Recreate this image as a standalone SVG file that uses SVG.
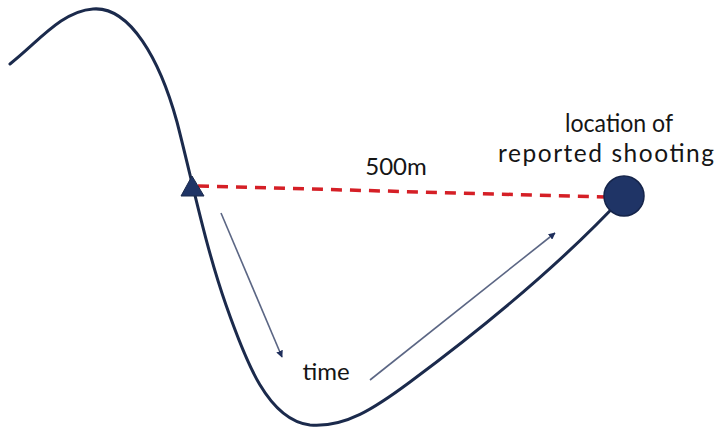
<svg xmlns="http://www.w3.org/2000/svg" width="717" height="428" viewBox="0 0 717 428">
<defs>
<style>
.curve{fill:none;stroke:#1b2a4c;stroke-width:3;stroke-linecap:round}
.arr{fill:none;stroke:#5b6684;stroke-width:1.6}
.dash{fill:none;stroke:#d51f26;stroke-width:3.5;stroke-dasharray:11 8}
.lbl{font-family:Lato,"Open Sans","Liberation Sans",sans-serif;font-size:24px;fill:#151515}
.big{font-size:24.5px}
</style>
<marker id="ah" viewBox="0 0 10 10" refX="9" refY="5" markerWidth="7" markerHeight="7" markerUnits="userSpaceOnUse" orient="auto">
<path d="M0,0 L10,5 L0,10 z" fill="#1f2f5c"/>
</marker>
</defs>
<g id="path">
<path class="curve" d="M10,64 C38,42 62,11 93,9 C130,6 160,60 177,122 C192,180 205,245 226,305 C246,362 268,420 310,425 C345,428 375,408 410,382 C480,330 560,265 624,196"/>
</g>
<g id="connectors">
<line class="dash" x1="198" y1="186" x2="606" y2="197"/>
<line class="arr" x1="221" y1="213" x2="282" y2="357" marker-end="url(#ah)"/>
<line class="arr" x1="370" y1="380" x2="555" y2="233" marker-end="url(#ah)"/>
</g>
<g id="sensor">
<polygon points="192,176 181,196 204,196" fill="#1f3466" stroke="#1b2a4c" stroke-width="1" stroke-linejoin="round"/>
</g>
<g id="shooting">
<circle cx="624" cy="196" r="20" fill="#1f3466" stroke="#15244a" stroke-width="1.5"/>
<text class="lbl big" x="565" y="132" textLength="108" lengthAdjust="spacingAndGlyphs">location of</text>
<text class="lbl big" x="498" y="162" textLength="216" lengthAdjust="spacing">reported shooting</text>
</g>
<g id="labels">
<text class="lbl" x="396" y="175" text-anchor="middle">500m</text>
<text class="lbl" x="326" y="380" text-anchor="middle">time</text>
</g>
</svg>
